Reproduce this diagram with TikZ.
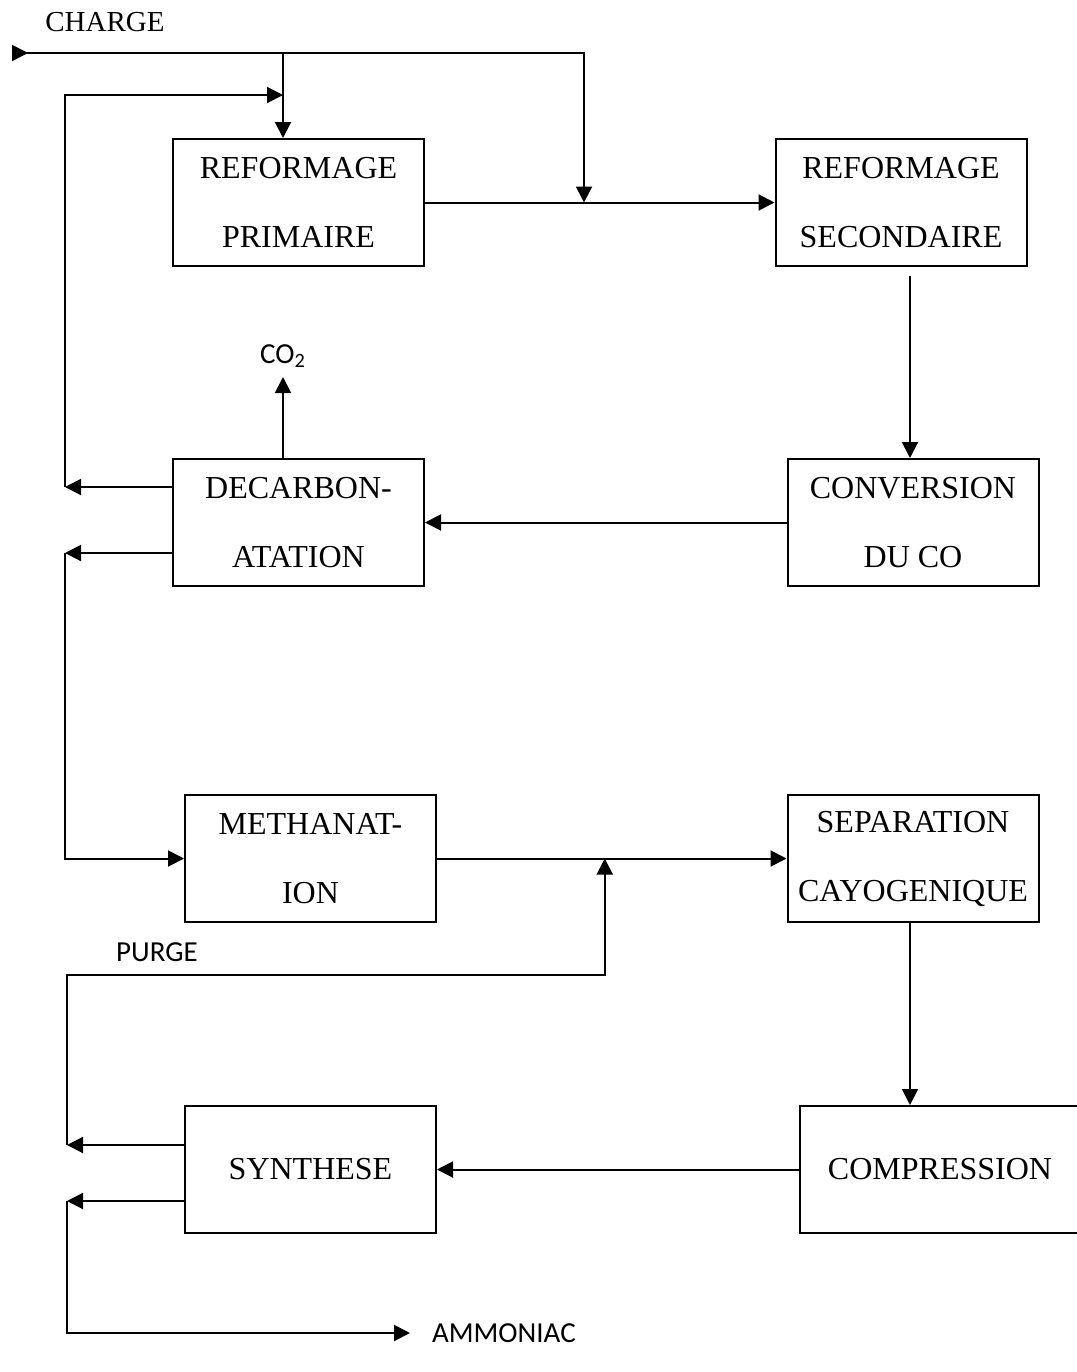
\documentclass[tikz,border=0pt]{standalone}
\usepackage{fontspec}
\setmainfont{Liberation Serif}
\newfontfamily\calibri{Carlito}
\usetikzlibrary{arrows.meta,calc}
\tikzstyle{unit} = [
  draw,
  line width=1pt,
  minimum width=125.5pt,
  minimum height=63.5pt,
  inner sep=0pt,
  align=center,
  font=\fontsize{16}{34.5}\selectfont,
]
\tikzstyle{flow} = [
  line width=1pt,
  -{Triangle[length=8pt,width=8pt]},
]
\tikzstyle{tag} = [font=\calibri\fontsize{14.5}{17}\selectfont]

\begin{document}
\begin{tikzpicture}[x=0.5pt,y=-0.5pt]
            \useasboundingbox (0,0) rectangle (1077,1372);
            \clip (0,0) rectangle (1077,1372);

            % Units
            \node[unit] (prim) at (298.5,202.5) {REFORMAGE\\PRIMAIRE};
            \node[unit] (sec) at (901,202.5) {REFORMAGE\\SECONDAIRE};
            \node[unit] (conv) at (913,522.5) {CONVERSION\\DU CO};
            \node[unit] (decarb) at (298.5,522.5) {DECARBON-\\ATATION};
            \node[unit] (meth) at (310.5,858.5) {METHANAT-\\ION};
            \node[unit] (sep) at (913,858.5) {SEPARATION\\CAYOGENIQUE};
            \node[unit] (synth) at (310.5,1169.5) {SYNTHESE};
            \node[unit, minimum width=140pt] (comp) at (940,1169.5) {COMPRESSION};

            % Labels
            \node[font=\fontsize{14.5}{17}\selectfont] (charge) at (105,22) {CHARGE};
            \node[tag] (co2) at (283,356) {CO\textsubscript{2}};
            \node[tag] (purge) at (157,952) {PURGE};
            \node[tag, anchor=west] (amm) at (425,1333) {AMMONIAC};

            % Junctions
            \coordinate (feed) at (12,53);
            \coordinate (split) at (283,53);
            \coordinate (mix) at ($(prim.east)!0.455!(sec.west)$);
            \coordinate (r1) at (65,487);
            \coordinate (r2) at (283,95);
            \coordinate (r3) at (65,553);
            \coordinate (pj) at ($(meth.east)!0.48!(sep.west)$);
            \coordinate (s1) at (67,1145);
            \coordinate (p1) at (67,975);
            \coordinate (s2) at (67,1201);

            % Charge
            \draw[flow, {Triangle[reversed,length=8pt,width=8pt]}-{Triangle[length=8pt,width=8pt]}] (feed) -| (mix);
            \draw[flow] (split) -- (split |- prim.north);

            % Main line
            \draw[flow] (prim.east) -- (sec.west);
            \draw[flow] ($(sec.south -| conv.north)+(-3,9)$) -- ($(conv.north)+(-3,0)$);
            \draw[flow] (conv.west) -- (decarb.east);
            \draw[flow] (co2 |- decarb.north) -- ($(co2)+(0,21)$);
            \draw[flow] ($(decarb.west)+(0,-35.5)$) -- (r1);
            \draw[flow] (r1) |- (r2);
            \draw[flow] ($(decarb.west)+(0,30.5)$) -- (r3);
            \draw[flow] (r3) |- (meth.west);
            \draw[flow] (meth.east) -- (sep.west);
            \draw[flow] ($(sep.south)+(-3,0)$) -- ($(sep.south |- comp.north)+(-3,0)$);
            \draw[flow] (comp.west) -- (synth.east);

            % Purge and product
            \draw[flow] ($(synth.west)+(0,-24.5)$) -- (s1);
            \draw[flow] (s1) -- (p1) -| (pj);
            \draw[flow] ($(synth.west)+(0,31.5)$) -- (s2);
            \draw[flow] (s2) |- ($(amm.west)+(-15,0)$);
          \end{tikzpicture}
\end{document}
